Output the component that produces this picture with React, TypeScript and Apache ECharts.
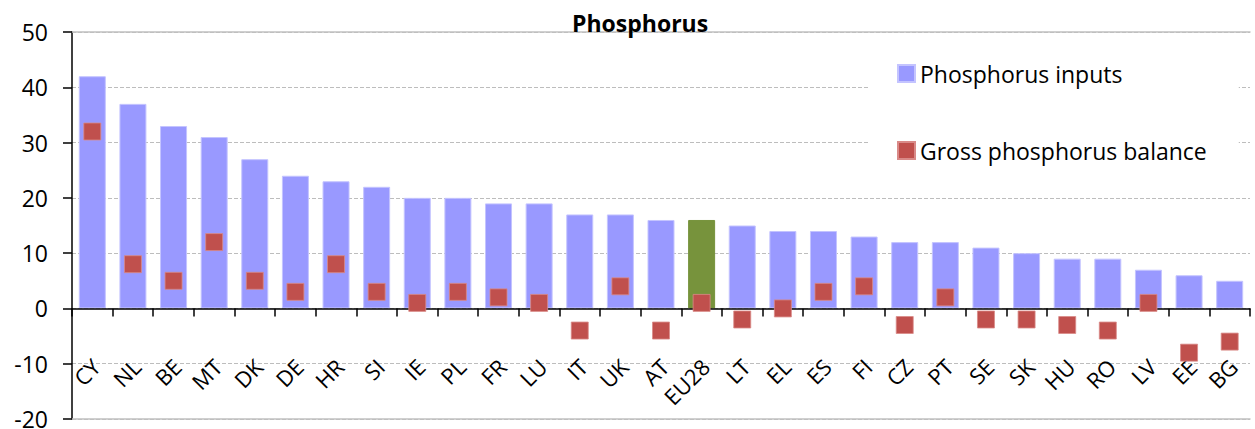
import React, { useEffect, useRef } from "react";
import * as echarts from "echarts";

const categories = ["CY","NL","BE","MT","DK","DE","HR","SI","IE","PL","FR","LU","IT","UK","AT","EU28","LT","EL","ES","FI","CZ","PT","SE","SK","HU","RO","LV","EE","BG"];
const inputs = [42,37,33,31,27,24,23,22,20,20,19,19,17,17,16,16,15,14,14,13,12,12,11,10,9,9,7,6,5];
const balance = [32,8,5,12,5,3,8,3,1,3,2,1,-4,4,-4,1,-2,0,3,4,-3,2,-2,-2,-3,-4,1,-8,-6];
const highlight = "EU28";

const FONT = "'Open Sans', sans-serif";

export default function App() {
  const ref = useRef<HTMLDivElement>(null);
  useEffect(() => {
    if (!ref.current) return;
    const chart = echarts.init(ref.current, null, { renderer: "svg" });
    chart.setOption({
      animation: false,
      title: {
        text: "Phosphorus",
        left: 567,
        top: 6,
        textStyle: { fontFamily: FONT, fontWeight: "bold", fontSize: 23, color: "#000" },
      },
      legend: {
        orient: "vertical",
        left: 868,
        top: 40,
        backgroundColor: "#fff",
        padding: [22, 32, 22, 29],
        itemGap: 54,
        itemWidth: 17,
        itemHeight: 17,
        textStyle: { fontFamily: FONT, fontSize: 23, color: "#000" },
        data: [
          { name: "Phosphorus inputs", icon: "rect" },
          { name: "Gross phosphorus balance", icon: "rect" },
        ],
      },
      grid: { left: 72, right: 5, top: 32, bottom: 10, containLabel: false, outerBoundsMode: "none" },
      xAxis: [
        {
          type: "category",
          data: categories,
          position: "bottom",
          axisLine: { onZero: true, lineStyle: { color: "#000", width: 1.5 } },
          axisTick: { show: true, length: 8, lineStyle: { color: "#000", width: 1.5 } },
          axisLabel: {
            rotate: 45,
            margin: -60,
            interval: 0,
            align: "right",
            verticalAlign: "top",
            lineHeight: 10,
            fontFamily: FONT,
            fontSize: 22,
            color: "#000",
          },
          z: 5,
        },
        {
          type: "category",
          data: categories,
          position: "top",
          axisLine: { show: true, lineStyle: { color: "#c0c0c0", width: 1.5 } },
          axisTick: { show: false },
          axisLabel: { show: false },
        },
        {
          type: "category",
          data: categories,
          position: "bottom",
          axisLine: { show: true, onZero: false, lineStyle: { color: "#c0c0c0", width: 1.5 } },
          axisTick: { show: false },
          axisLabel: { show: false },
        },
      ],
      yAxis: {
        type: "value",
        min: -20,
        max: 50,
        interval: 10,
        axisLine: { show: true, lineStyle: { color: "#000", width: 1.5 } },
        axisTick: { show: true, length: 9, lineStyle: { color: "#000", width: 1.5 } },
        axisLabel: { fontFamily: FONT, fontSize: 23, lineHeight: 18, color: "#000", margin: 24 },
        splitLine: { show: true, lineStyle: { color: "#bdbdbd", type: [4, 2], width: 1 } },
      },
      series: [
        {
          name: "Phosphorus inputs",
          type: "bar",
          xAxisIndex: 0,
          barWidth: 27,
          itemStyle: { color: "#9999FF", borderColor: "#c4c4ff", borderWidth: 1 },
          data: inputs.map((v, i) =>
            categories[i] === highlight
              ? { value: v, itemStyle: { color: "#77933C", borderColor: "#77933C" } }
              : v
          ),
          z: 2,
        },
        {
          name: "Gross phosphorus balance",
          type: "scatter",
          xAxisIndex: 0,
          symbol: "rect",
          symbolSize: 17,
          itemStyle: { color: "#C0504D", borderColor: "#d98a88", borderWidth: 0.8, opacity: 1 },
          data: balance,
          z: 6,
        },
      ],
    });
    return () => chart.dispose();
  }, []);
  return <div ref={ref} style={{ width: 1255, height: 429, position: "absolute", left: 0, top: 0 }} />;
}
